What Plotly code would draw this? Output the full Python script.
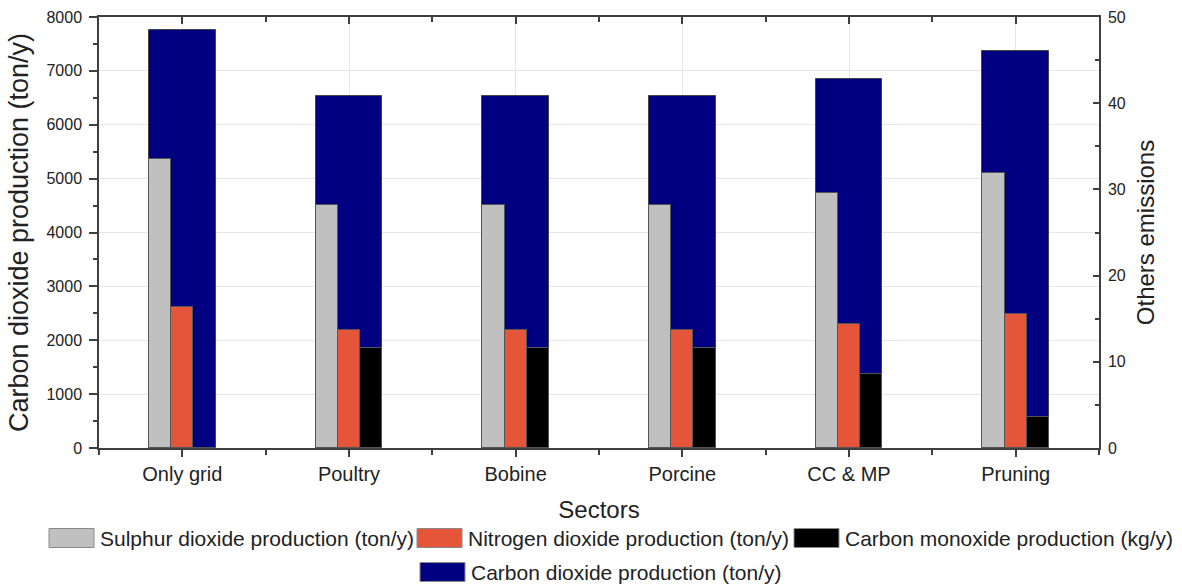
import numpy as np
import plotly.graph_objects as go

sectors = ["Only grid", "Poultry", "Bobine", "Porcine", "CC & MP", "Pruning"]
co2 = [7755, 6525, 6525, 6525, 6850, 7365]          # ton/y (left axis)
so2 = [33.5, 28.2, 28.2, 28.2, 29.6, 31.9]          # ton/y (right axis)
no2 = [16.4, 13.7, 13.7, 13.7, 14.4, 15.5]          # ton/y (right axis)
co = [0.0, 11.6, 11.6, 11.6, 8.6, 3.6]              # kg/y (right axis)

series_names = ["Sulphur dioxide production (ton/y)",
                "Nitrogen dioxide production (ton/y)",
                "Carbon monoxide production (kg/y)",
                "Carbon dioxide production (ton/y)"]
series_colors = ["#C0C0C0", "#E5553A", "#000000", "#000080"]

y_ticks_left = [0, 1000, 2000, 3000, 4000, 5000, 6000, 7000, 8000]
y_ticks_right = [0, 10, 20, 30, 40, 50]

xpos = np.arange(len(sectors))
FONT = "Liberation Sans, Arial, sans-serif"
AX = "#3f3f3f"

fig = go.Figure()
fig.add_trace(go.Bar(
    x=xpos, y=co2, width=0.4, offset=-0.2, name=series_names[3],
    marker=dict(color=series_colors[3], line=dict(color="#444", width=1)),
    xaxis="x", yaxis="y", showlegend=False))
narrow = 0.4 / 3
for i, vals in enumerate([so2, no2, co]):
    fig.add_trace(go.Bar(
        x=xpos, y=vals, width=narrow, offset=-0.2 + i * narrow, name=series_names[i],
        marker=dict(color=series_colors[i], line=dict(color="#555", width=1)),
        xaxis="x2", yaxis="y2", showlegend=False))

# custom legend (wide rectangular swatches as in the reference)
L = 99; T = 17; W = 1000; H = 431
def px(x): return (x - L) / W
def py(y): return (T + H - y) / H
legend_items = [  # (swatch left px, row center px)
    (49, 538), (417, 538), (794, 538), (420, 572)]
shapes = []
annotations = []
for (sx, cy), nm, col in zip(legend_items, series_names, series_colors):
    shapes.append(dict(type="rect", xref="paper", yref="paper",
                       x0=px(sx), x1=px(sx + 45), y0=py(cy + 9.5), y1=py(cy - 9.5),
                       fillcolor=col, line=dict(color="#8a8a8a", width=1)))
    annotations.append(dict(xref="paper", yref="paper", x=px(sx + 49), y=py(cy),
                            xanchor="left", yanchor="middle", text=nm, showarrow=False,
                            font=dict(size=21, color="#222")))

fig.update_layout(
    width=1182, height=588,
    margin=dict(l=L, r=1182 - L - W, t=T, b=588 - T - H),
    paper_bgcolor="white", plot_bgcolor="white",
    barmode="overlay", bargap=0, showlegend=False,
    font=dict(family=FONT, color="#222", size=16),
    shapes=shapes, annotations=annotations,
    xaxis=dict(
        range=[-0.5, 5.5], tickvals=list(xpos), ticktext=sectors,
        tickfont=dict(size=20), showgrid=True, gridcolor="#e6e6e6",
        showline=True, linecolor=AX, linewidth=1.5, mirror=False,
        ticks="outside", ticklen=7, tickwidth=1.5, tickcolor=AX,
        minor=dict(dtick=0.5, tick0=0.5, ticks="outside", ticklen=5, tickcolor=AX, showgrid=False),
        title=dict(text="Sectors", font=dict(size=24), standoff=17),
        zeroline=False, automargin=False),
    xaxis2=dict(
        range=[-0.5, 5.5], matches="x", overlaying="x", side="top",
        tickvals=list(xpos), showticklabels=False, showgrid=False,
        showline=True, linecolor=AX, linewidth=1.5,
        ticks="inside", ticklen=7, tickwidth=1.5, tickcolor=AX,
        minor=dict(dtick=0.5, tick0=0.5, ticks="inside", ticklen=5, tickcolor=AX, showgrid=False),
        zeroline=False, automargin=False),
    yaxis=dict(
        range=[0, 8000], tickvals=y_ticks_left, tickfont=dict(size=16),
        showgrid=True, gridcolor="#e6e6e6", showline=True, linecolor=AX, linewidth=1.5,
        ticks="outside", ticklen=8, tickwidth=1.5, tickcolor=AX, ticklabelstandoff=4,
        minor=dict(dtick=500, ticks="outside", ticklen=4, tickcolor=AX, showgrid=False),
        title=dict(text="Carbon dioxide production (ton/y)", font=dict(size=27), standoff=10),
        zeroline=False, automargin=False),
    yaxis2=dict(
        range=[0, 50], tickvals=y_ticks_right, tickfont=dict(size=16),
        overlaying="y", side="right", anchor="x2", showgrid=False,
        showline=True, linecolor=AX, linewidth=1.5,
        ticks="inside", ticklen=6, tickwidth=1.5, tickcolor=AX, ticklabelstandoff=4,
        minor=dict(dtick=5, ticks="inside", ticklen=4, tickcolor=AX),
        title=dict(text="Others emissions", font=dict(size=24), standoff=12),
        zeroline=False, automargin=False),
)

fig.write_html("out.html", config={"displayModeBar": False},
               post_script="document.body.style.margin='0px';")
